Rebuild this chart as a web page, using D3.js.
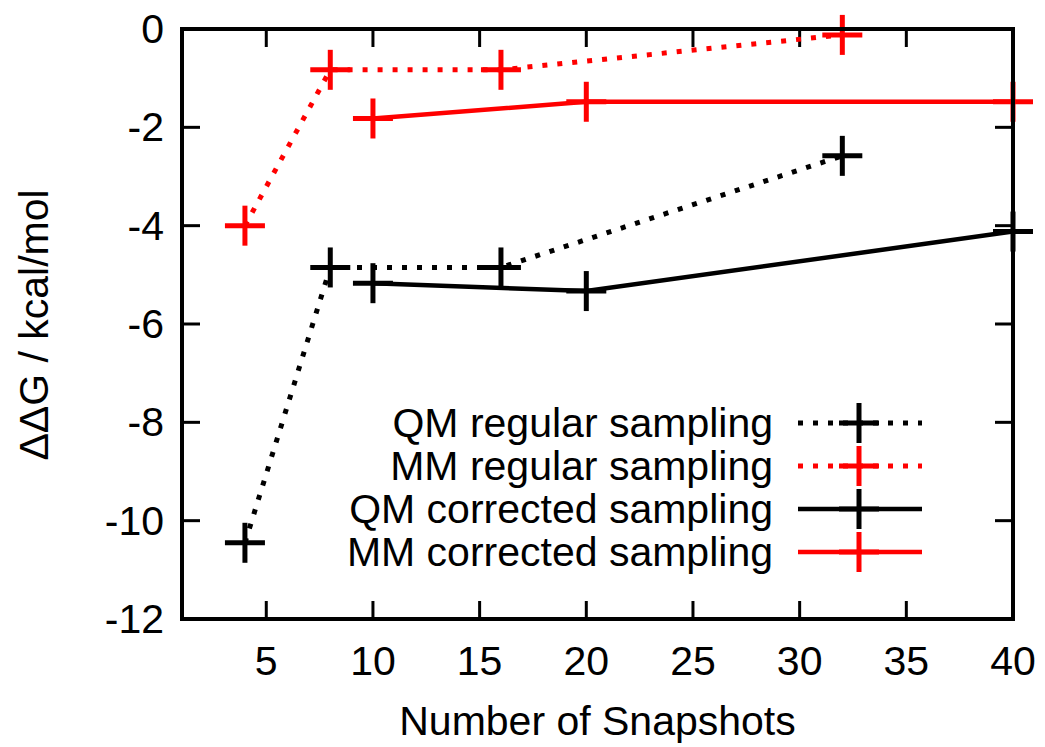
<!DOCTYPE html>
<html>
<head>
<meta charset="utf-8">
<script src="https://cdn.jsdelivr.net/npm/d3@7"></script>
<style>
  body { margin: 0; background: #fff; }
  text { font-family: "Liberation Sans", Arial, sans-serif; fill: #000; }
</style>
</head>
<body>
<div id="chart"></div>
<script>
// data
var qmRegularX = [4, 8, 16, 32];
var qmRegularY = [-10.45, -4.85, -4.85, -2.58];
var mmRegularX = [4, 8, 16, 32];
var mmRegularY = [-4.0, -0.83, -0.83, -0.12];
var qmCorrectedX = [10, 20, 40];
var qmCorrectedY = [-5.17, -5.33, -4.12];
var mmCorrectedX = [10, 20, 40];
var mmCorrectedY = [-1.82, -1.48, -1.48];

var xTicks = [5, 10, 15, 20, 25, 30, 35, 40];
var yTicks = [0, -2, -4, -6, -8, -10, -12];

var seriesNames = ["QM regular sampling", "MM regular sampling", "QM corrected sampling", "MM corrected sampling"];
var seriesColors = ["#000", "#f00", "#000", "#f00"];
var seriesDashed = [true, true, false, false];

var series = [
  { x: qmRegularX, y: qmRegularY },
  { x: mmRegularX, y: mmRegularY },
  { x: qmCorrectedX, y: qmCorrectedY },
  { x: mmCorrectedX, y: mmCorrectedY }
].map(function(s, i) {
  return {
    name: seriesNames[i],
    color: seriesColors[i],
    dashed: seriesDashed[i],
    points: s.x.map(function(v, j) { return { x: v, y: s.y[j] }; })
  };
});

var width = 1045, height = 747;
var margin = { top: 29, right: 32, bottom: 128, left: 182 };
var w = width - margin.left - margin.right;
var h = height - margin.top - margin.bottom;

var svg = d3.select("#chart").append("svg")
  .attr("width", width)
  .attr("height", height);

var g = svg.append("g")
  .attr("transform", "translate(" + margin.left + "," + margin.top + ")");

var x = d3.scaleLinear().domain([1.05, 40]).range([0, w]);
var y = d3.scaleLinear().domain([-12, 0]).range([h, 0]);

var fontSize = 41;
var tickLen = 18;

// ticks, inward on all four sides
g.selectAll(".xt").data(xTicks).enter().append("line")
  .attr("x1", function(d) { return x(d); }).attr("x2", function(d) { return x(d); })
  .attr("y1", h).attr("y2", h - tickLen)
  .attr("stroke", "#000").attr("stroke-width", 3);
g.selectAll(".xt2").data(xTicks).enter().append("line")
  .attr("x1", function(d) { return x(d); }).attr("x2", function(d) { return x(d); })
  .attr("y1", 0).attr("y2", tickLen)
  .attr("stroke", "#000").attr("stroke-width", 3);
g.selectAll(".yt").data(yTicks).enter().append("line")
  .attr("x1", 0).attr("x2", tickLen)
  .attr("y1", function(d) { return y(d); }).attr("y2", function(d) { return y(d); })
  .attr("stroke", "#000").attr("stroke-width", 3);
g.selectAll(".yt2").data(yTicks).enter().append("line")
  .attr("x1", w).attr("x2", w - tickLen)
  .attr("y1", function(d) { return y(d); }).attr("y2", function(d) { return y(d); })
  .attr("stroke", "#000").attr("stroke-width", 3);

// tick labels
g.selectAll(".xl").data(xTicks).enter().append("text")
  .attr("x", function(d) { return x(d); })
  .attr("y", h + 56)
  .attr("text-anchor", "middle")
  .style("font-size", fontSize + "px")
  .text(function(d) { return d; });
g.selectAll(".yl").data(yTicks).enter().append("text")
  .attr("x", -18)
  .attr("y", function(d) { return y(d) + 14; })
  .attr("text-anchor", "end")
  .style("font-size", fontSize + "px")
  .text(function(d) { return d; });

// axis titles
svg.append("text")
  .attr("x", margin.left + w / 2)
  .attr("y", 735)
  .attr("text-anchor", "middle")
  .style("font-size", fontSize + "px")
  .text("Number of Snapshots");
svg.append("text")
  .attr("transform", "translate(48,325) rotate(-90)")
  .attr("text-anchor", "middle")
  .style("font-size", fontSize + "px")
  .text("ΔΔG / kcal/mol");

// clip lines to the plot
svg.append("defs").append("clipPath").attr("id", "clip")
  .append("rect").attr("width", w).attr("height", h);

var line = d3.line()
  .x(function(d) { return x(d.x); })
  .y(function(d) { return y(d.y); });

var plot = g.append("g").attr("clip-path", "url(#clip)");
var arm = 20;

function plus(sel, color) {
  sel.append("line").attr("x1", -arm).attr("x2", arm).attr("y1", 0).attr("y2", 0)
    .attr("stroke", color).attr("stroke-width", 5);
  sel.append("line").attr("x1", 0).attr("x2", 0).attr("y1", -arm).attr("y2", arm)
    .attr("stroke", color).attr("stroke-width", 5);
}

series.forEach(function(s) {
  plot.append("path")
    .datum(s.points)
    .attr("fill", "none")
    .attr("stroke", s.color)
    .attr("stroke-width", s.dashed ? 5 : 4.5)
    .attr("stroke-dasharray", s.dashed ? "5,10" : null)
    .attr("d", line);
  s.points.forEach(function(p) {
    plus(g.append("g").attr("transform", "translate(" + x(p.x) + "," + y(p.y) + ")"), s.color);
  });
});

// legend
var legend = g.selectAll(".leg").data(series).enter().append("g")
  .attr("transform", function(d, i) { return "translate(0," + (423 + i * 43 - margin.top) + ")"; });
legend.append("text")
  .attr("x", 773 - margin.left)
  .attr("y", 14)
  .attr("text-anchor", "end")
  .style("font-size", fontSize + "px")
  .text(function(d) { return d.name; });
legend.append("line")
  .attr("x1", 798 - margin.left).attr("x2", 922 - margin.left)
  .attr("y1", 0).attr("y2", 0)
  .attr("stroke", function(d) { return d.color; })
  .attr("stroke-width", function(d) { return d.dashed ? 5 : 4.5; })
  .attr("stroke-dasharray", function(d) { return d.dashed ? "5,10" : null; });
legend.each(function(d) {
  plus(d3.select(this).append("g").attr("transform", "translate(" + (859 - margin.left) + ",0)"), d.color);
});

// frame
g.append("rect")
  .attr("width", w).attr("height", h)
  .attr("fill", "none")
  .attr("stroke", "#000")
  .attr("stroke-width", 4);
</script>
</body>
</html>
